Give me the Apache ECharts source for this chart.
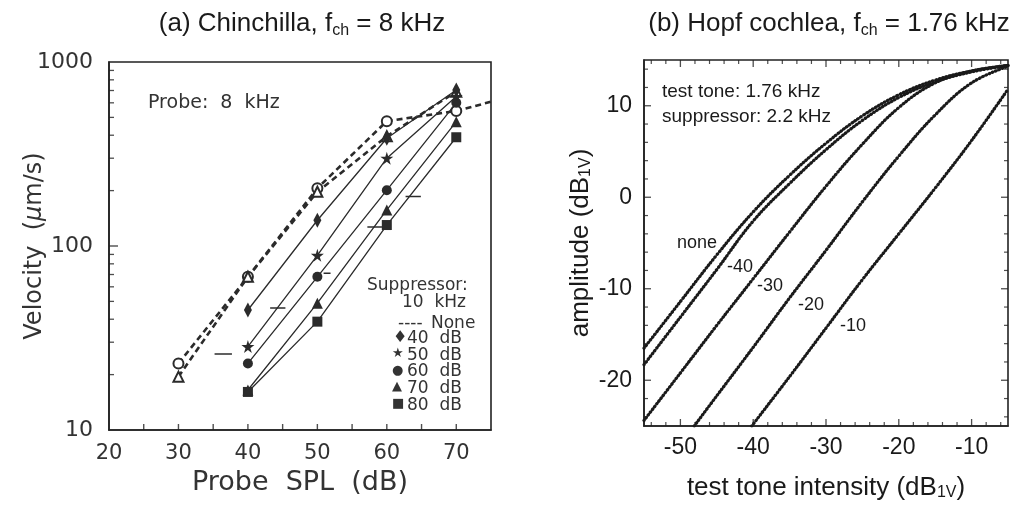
<!DOCTYPE html>
<html>
<head>
<meta charset="utf-8">
<script src="https://cdn.jsdelivr.net/npm/echarts@6/dist/echarts.min.js"></script>
<style>
html, body { margin: 0; padding: 0; background: #ffffff; }
#chart { width: 1012px; height: 509px; }
</style>
</head>
<body>
<div id="chart"></div>
<script>
// ---------- Panel (a): chinchilla BM velocity vs probe level ----------
const splLabels = [20, 30, 40, 50, 60, 70];
const splTicks = [25, 30, 35, 40, 45, 50, 55, 60, 65, 70];
const velMajorTicks = [10, 100, 1000];
const velMinorTicks = [20, 30, 40, 50, 60, 70, 80, 90, 200, 300, 400, 500, 600, 700, 800, 900];

// no suppressor (two runs, dashed)
const noneCircle = [[30, 23], [40, 68], [50, 206], [60, 477], [70, 542], [75, 608]];
const noneTriangle = [[30, 19.5], [40, 68], [50, 197], [60, 395], [70, 690]];
// with 10 kHz suppressor at several levels
const supp40 = [[40, 44.9], [50, 138], [60, 385], [70, 705]];
const supp50 = [[40, 28.4], [50, 89], [60, 300], [70, 650]];
const supp60 = [[40, 23], [50, 68], [60, 201], [70, 600]];
const supp70 = [[40, 16.5], [50, 48.9], [60, 157], [70, 474]];
const supp80 = [[40, 16.1], [50, 38.8], [60, 130], [70, 390]];
// short horizontal marks: [start level, end level, velocity]
const thresholdMarks = [
  [35.2, 37.7, 25.9],
  [43.2, 45.4, 46],
  [50.9, 51.9, 71],
  [57.2, 59.3, 127],
  [62.7, 64.9, 186]
];

// ---------- Panel (b): Hopf cochlea model ----------
const intensityLabels = [-50, -40, -30, -20, -10];
const intensityMinor = [-54, -52, -48, -46, -44, -42, -38, -36, -34, -32, -28, -26, -24, -22,
  -18, -16, -14, -12, -8, -6];
const ampLabels = [-20, -10, 0, 10];
const ampMinor = [-24, -22, -18, -16, -14, -12, -8, -6, -4, -2, 2, 4, 6, 8, 12, 14];

const curveNone = [[-55, -16.5], [-50, -11.4], [-45, -6.3], [-40, -1.6], [-35, 2.4], [-30, 5.9],
  [-25, 8.9], [-20, 11.2], [-15, 12.8], [-10, 13.8], [-5, 14.4]];
const curveM40 = [[-55, -18.3], [-50, -13.1], [-45, -7.9], [-40, -2.6], [-35, 1.5], [-30, 5.2],
  [-25, 8.4], [-20, 10.9], [-15, 12.6], [-10, 13.7], [-5, 14.4]];
const curveM30 = [[-55, -24.4], [-50, -19.2], [-45, -14.0], [-40, -8.9], [-35, -3.8], [-30, 1.2],
  [-25, 5.8], [-20, 9.8], [-15, 12.5], [-10, 13.8], [-5, 14.4]];
const curveM20 = [[-48.1, -25], [-45, -21.7], [-40, -16.4], [-35, -11.0], [-30, -5.8], [-25, -0.5],
  [-20, 4.5], [-15, 9.0], [-10, 12.5], [-5, 14.3]];
const curveM10 = [[-40.2, -25], [-35, -19.6], [-30, -14.3], [-25, -9.0], [-20, -4.0], [-15, 1.0],
  [-10, 6.2], [-5, 11.8]];

const inkA = '#2b2b2b';
const inkB = '#1a1a1a';
const frame = '#222222';
const fontA = 'DejaVu Sans';
const fontB = 'Liberation Sans';

const star = 'path://M50,0 L61,35 L98,35 L68,57 L79,91 L50,70 L21,91 L32,57 L2,35 L39,35 Z';

function suppSeries(data, symbol, size) {
  return {
    type: 'line', xAxisIndex: 0, yAxisIndex: 0, data: data,
    symbol: symbol, symbolSize: size, showAllSymbol: true,
    lineStyle: { color: inkA, width: 1.3 },
    itemStyle: { color: inkA },
    z: 3, silent: true, animation: false
  };
}

function noneSeries(data, symbol) {
  return {
    type: 'line', xAxisIndex: 0, yAxisIndex: 0,
    data: data.map(function (p) { return p[0] > 70 ? { value: p, symbol: 'none' } : p; }),
    symbol: symbol, symbolSize: 10, showAllSymbol: true,
    lineStyle: { color: inkA, width: 2.6, type: [6, 4] },
    itemStyle: { color: inkA, borderColor: inkA, borderWidth: 1.5 },
    z: 2, silent: true, animation: false
  };
}

function curveSeries(data) {
  return {
    type: 'line', xAxisIndex: 1, yAxisIndex: 1, data: data,
    showSymbol: false, smooth: 0.4, clip: true,
    lineStyle: { color: inkB, width: 3.2, type: [0.6, 2.9], cap: 'round' },
    silent: true, animation: false
  };
}

// inward tick marks drawn as thin rectangles at axis values
function tickMarks(xi, yi, points, size, offset) {
  return {
    type: 'scatter', xAxisIndex: xi, yAxisIndex: yi, data: points,
    symbol: 'rect', symbolSize: size, symbolOffset: offset, clip: false,
    itemStyle: { color: frame }, z: 4, silent: true, animation: false
  };
}

const series = [
  noneSeries(noneCircle, 'emptyCircle'),
  noneSeries(noneTriangle, 'emptyTriangle'),
  suppSeries(supp80, 'rect', 10),
  suppSeries(supp70, 'triangle', 11),
  suppSeries(supp60, 'circle', 10),
  suppSeries(supp50, star, 13),
  suppSeries(supp40, 'diamond', [8, 15])
];
thresholdMarks.forEach(function (m) {
  series.push({
    type: 'line', xAxisIndex: 0, yAxisIndex: 0,
    data: [[m[0], m[2]], [m[1], m[2]]], showSymbol: false,
    lineStyle: { color: inkA, width: 1.5 }, silent: true, animation: false
  });
});
[curveNone, curveM40, curveM30, curveM20, curveM10].forEach(function (c) {
  series.push(curveSeries(c));
});

// panel (a) ticks
series.push(tickMarks(0, 0, splTicks.map(function (v) { return [v, 10]; }), [1.4, 6], [0, -3]));
series.push(tickMarks(0, 0, velMajorTicks.slice(1, 2).map(function (v) { return [20, v]; }), [9, 1.4], [4.5, 0]));
series.push(tickMarks(0, 0, velMinorTicks.map(function (v) { return [20, v]; }), [5, 1.3], [2.5, 0]));
// panel (b) ticks on all four sides
series.push(tickMarks(1, 1, intensityLabels.map(function (v) { return [v, -25]; }), [1.3, 7], [0, -3.5]));
series.push(tickMarks(1, 1, intensityMinor.map(function (v) { return [v, -25]; }), [1.2, 4], [0, -2]));
series.push(tickMarks(1, 1, intensityLabels.map(function (v) { return [v, 15]; }), [1.3, 7], [0, 3.5]));
series.push(tickMarks(1, 1, intensityMinor.map(function (v) { return [v, 15]; }), [1.2, 4], [0, 2]));
series.push(tickMarks(1, 1, ampLabels.map(function (v) { return [-55, v]; }), [7, 1.3], [3.5, 0]));
series.push(tickMarks(1, 1, ampMinor.map(function (v) { return [-55, v]; }), [4, 1.2], [2, 0]));
series.push(tickMarks(1, 1, ampLabels.map(function (v) { return [-5, v]; }), [7, 1.3], [-3.5, 0]));
series.push(tickMarks(1, 1, ampMinor.map(function (v) { return [-5, v]; }), [4, 1.2], [-2, 0]));

const subRich = {
  s: { fontSize: 16, lineHeight: 16, verticalAlign: 'bottom', fontFamily: fontB, color: inkB }
};

const option = {
  backgroundColor: '#ffffff',
  animation: false,
  title: [
    {
      text: '(a) Chinchilla, f{s|ch} = 8 kHz',
      left: 297, top: 4, textAlign: 'center',
      textStyle: { fontSize: 26, fontWeight: 'normal', color: inkB, fontFamily: fontB, lineHeight: 30, rich: subRich }
    },
    {
      text: '(b) Hopf cochlea, f{s|ch} = 1.76 kHz',
      left: 824, top: 4, textAlign: 'center',
      textStyle: { fontSize: 26, fontWeight: 'normal', color: inkB, fontFamily: fontB, lineHeight: 30, rich: subRich }
    }
  ],
  grid: [
    { left: 109, top: 62, width: 382, height: 368, show: true, borderColor: frame, borderWidth: 1.6, backgroundColor: 'transparent' },
    { left: 644, top: 60, width: 364, height: 366, show: true, borderColor: frame, borderWidth: 1.6, backgroundColor: 'transparent' }
  ],
  xAxis: [
    {
      gridIndex: 0, type: 'value', min: 20, max: 75, position: 'bottom',
      axisLine: { onZero: false, lineStyle: { color: frame, width: 1.6 } },
      axisTick: { show: false },
      axisLabel: { customValues: splLabels, fontSize: 21, color: '#333', margin: 13, fontFamily: fontA },
      splitLine: { show: false },
      name: 'Probe  SPL  (dB)', nameLocation: 'middle', nameGap: 39,
      nameTextStyle: { fontSize: 27, color: '#333', fontFamily: fontA }
    },
    {
      gridIndex: 1, type: 'value', min: -55, max: -5, position: 'bottom',
      axisLine: { onZero: false, lineStyle: { color: frame, width: 1.6 } },
      axisTick: { show: false },
      axisLabel: { customValues: intensityLabels, fontSize: 23, color: inkB, margin: 10, fontFamily: fontB },
      splitLine: { show: false },
      name: 'test tone intensity (dB{s|1V})', nameLocation: 'middle', nameGap: 49,
      nameTextStyle: { fontSize: 26, color: inkB, fontFamily: fontB, rich: subRich }
    }
  ],
  yAxis: [
    {
      gridIndex: 0, type: 'log', logBase: 10, min: 10, max: 1000, position: 'left',
      axisLine: { onZero: false, lineStyle: { color: frame, width: 1.6 } },
      axisTick: { show: false },
      axisLabel: { fontSize: 22, color: '#333', margin: 16, fontFamily: fontA,
        formatter: function (v) { return String(Math.round(v)); } },
      splitLine: { show: false },
      name: '{n|Velocity  (}{i|μ}{n|m/s)}', nameLocation: 'middle', nameGap: 62, nameRotate: 90,
      nameMoveOverlap: false,
      nameTextStyle: {
        fontSize: 24, color: '#333', fontFamily: fontA,
        rich: {
          n: { fontSize: 24, color: '#333', fontFamily: fontA },
          i: { fontSize: 24, color: '#333', fontFamily: fontA, fontStyle: 'italic' }
        }
      }
    },
    {
      gridIndex: 1, type: 'value', min: -25, max: 15, position: 'left',
      axisLine: { onZero: false, lineStyle: { color: frame, width: 1.6 } },
      axisTick: { show: false },
      axisLabel: { customValues: ampLabels, fontSize: 23, color: inkB, margin: 12, fontFamily: fontB },
      splitLine: { show: false },
      name: 'amplitude (dB{s|1V})', nameLocation: 'middle', nameGap: 50, nameRotate: 90,
      nameTextStyle: { fontSize: 26, color: inkB, fontFamily: fontB, rich: subRich }
    }
  ],
  series: series,
  graphic: [
    // panel (a) annotations
    { type: 'text', left: 148, top: 94, style: { text: 'Probe:  8  kHz', fontSize: 19, fill: '#333', fontFamily: fontA } },
    { type: 'text', left: 367, top: 277, style: { text: 'Suppressor:', fontSize: 17, fill: '#333', fontFamily: fontA } },
    { type: 'text', left: 402, top: 294, style: { text: '10  kHz', fontSize: 17, fill: '#333', fontFamily: fontA } },
    { type: 'text', left: 398, top: 315, style: { text: '----', fontSize: 17, fill: '#333', fontFamily: fontA } },
    { type: 'text', left: 431, top: 315, style: { text: 'None', fontSize: 17, fill: '#333', fontFamily: fontA } },
    { type: 'text', left: 393, top: 330, style: { text: '♦', fontSize: 16, fill: '#333', fontFamily: fontA } },
    { type: 'text', left: 392, top: 347, style: { text: '★', fontSize: 13, fill: '#333', fontFamily: fontA } },
    { type: 'text', left: 392, top: 364, style: { text: '●', fontSize: 13, fill: '#333', fontFamily: fontA } },
    { type: 'text', left: 392, top: 380, style: { text: '▲', fontSize: 13, fill: '#333', fontFamily: fontA } },
    { type: 'text', left: 392, top: 397, style: { text: '■', fontSize: 13, fill: '#333', fontFamily: fontA } },
    { type: 'text', left: 407, top: 330, style: { text: '40  dB', fontSize: 17, fill: '#333', fontFamily: fontA } },
    { type: 'text', left: 407, top: 347, style: { text: '50  dB', fontSize: 17, fill: '#333', fontFamily: fontA } },
    { type: 'text', left: 407, top: 363, style: { text: '60  dB', fontSize: 17, fill: '#333', fontFamily: fontA } },
    { type: 'text', left: 407, top: 380, style: { text: '70  dB', fontSize: 17, fill: '#333', fontFamily: fontA } },
    { type: 'text', left: 407, top: 397, style: { text: '80  dB', fontSize: 17, fill: '#333', fontFamily: fontA } },
    // panel (b) annotations
    { type: 'text', left: 662, top: 82, style: { text: 'test tone: 1.76 kHz', fontSize: 19, fill: inkB, fontFamily: fontB } },
    { type: 'text', left: 662, top: 107, style: { text: 'suppressor: 2.2 kHz', fontSize: 19, fill: inkB, fontFamily: fontB } },
    { type: 'text', left: 677, top: 234, style: { text: 'none', fontSize: 18, fill: inkB, fontFamily: fontB } },
    { type: 'text', left: 727, top: 258, style: { text: '-40', fontSize: 18, fill: inkB, fontFamily: fontB } },
    { type: 'text', left: 757, top: 277, style: { text: '-30', fontSize: 18, fill: inkB, fontFamily: fontB } },
    { type: 'text', left: 798, top: 296, style: { text: '-20', fontSize: 18, fill: inkB, fontFamily: fontB } },
    { type: 'text', left: 840, top: 317, style: { text: '-10', fontSize: 18, fill: inkB, fontFamily: fontB } }
  ]
};

const chart = echarts.init(document.getElementById('chart'), null, { renderer: 'canvas' });
chart.setOption(option);
</script>
</body>
</html>
